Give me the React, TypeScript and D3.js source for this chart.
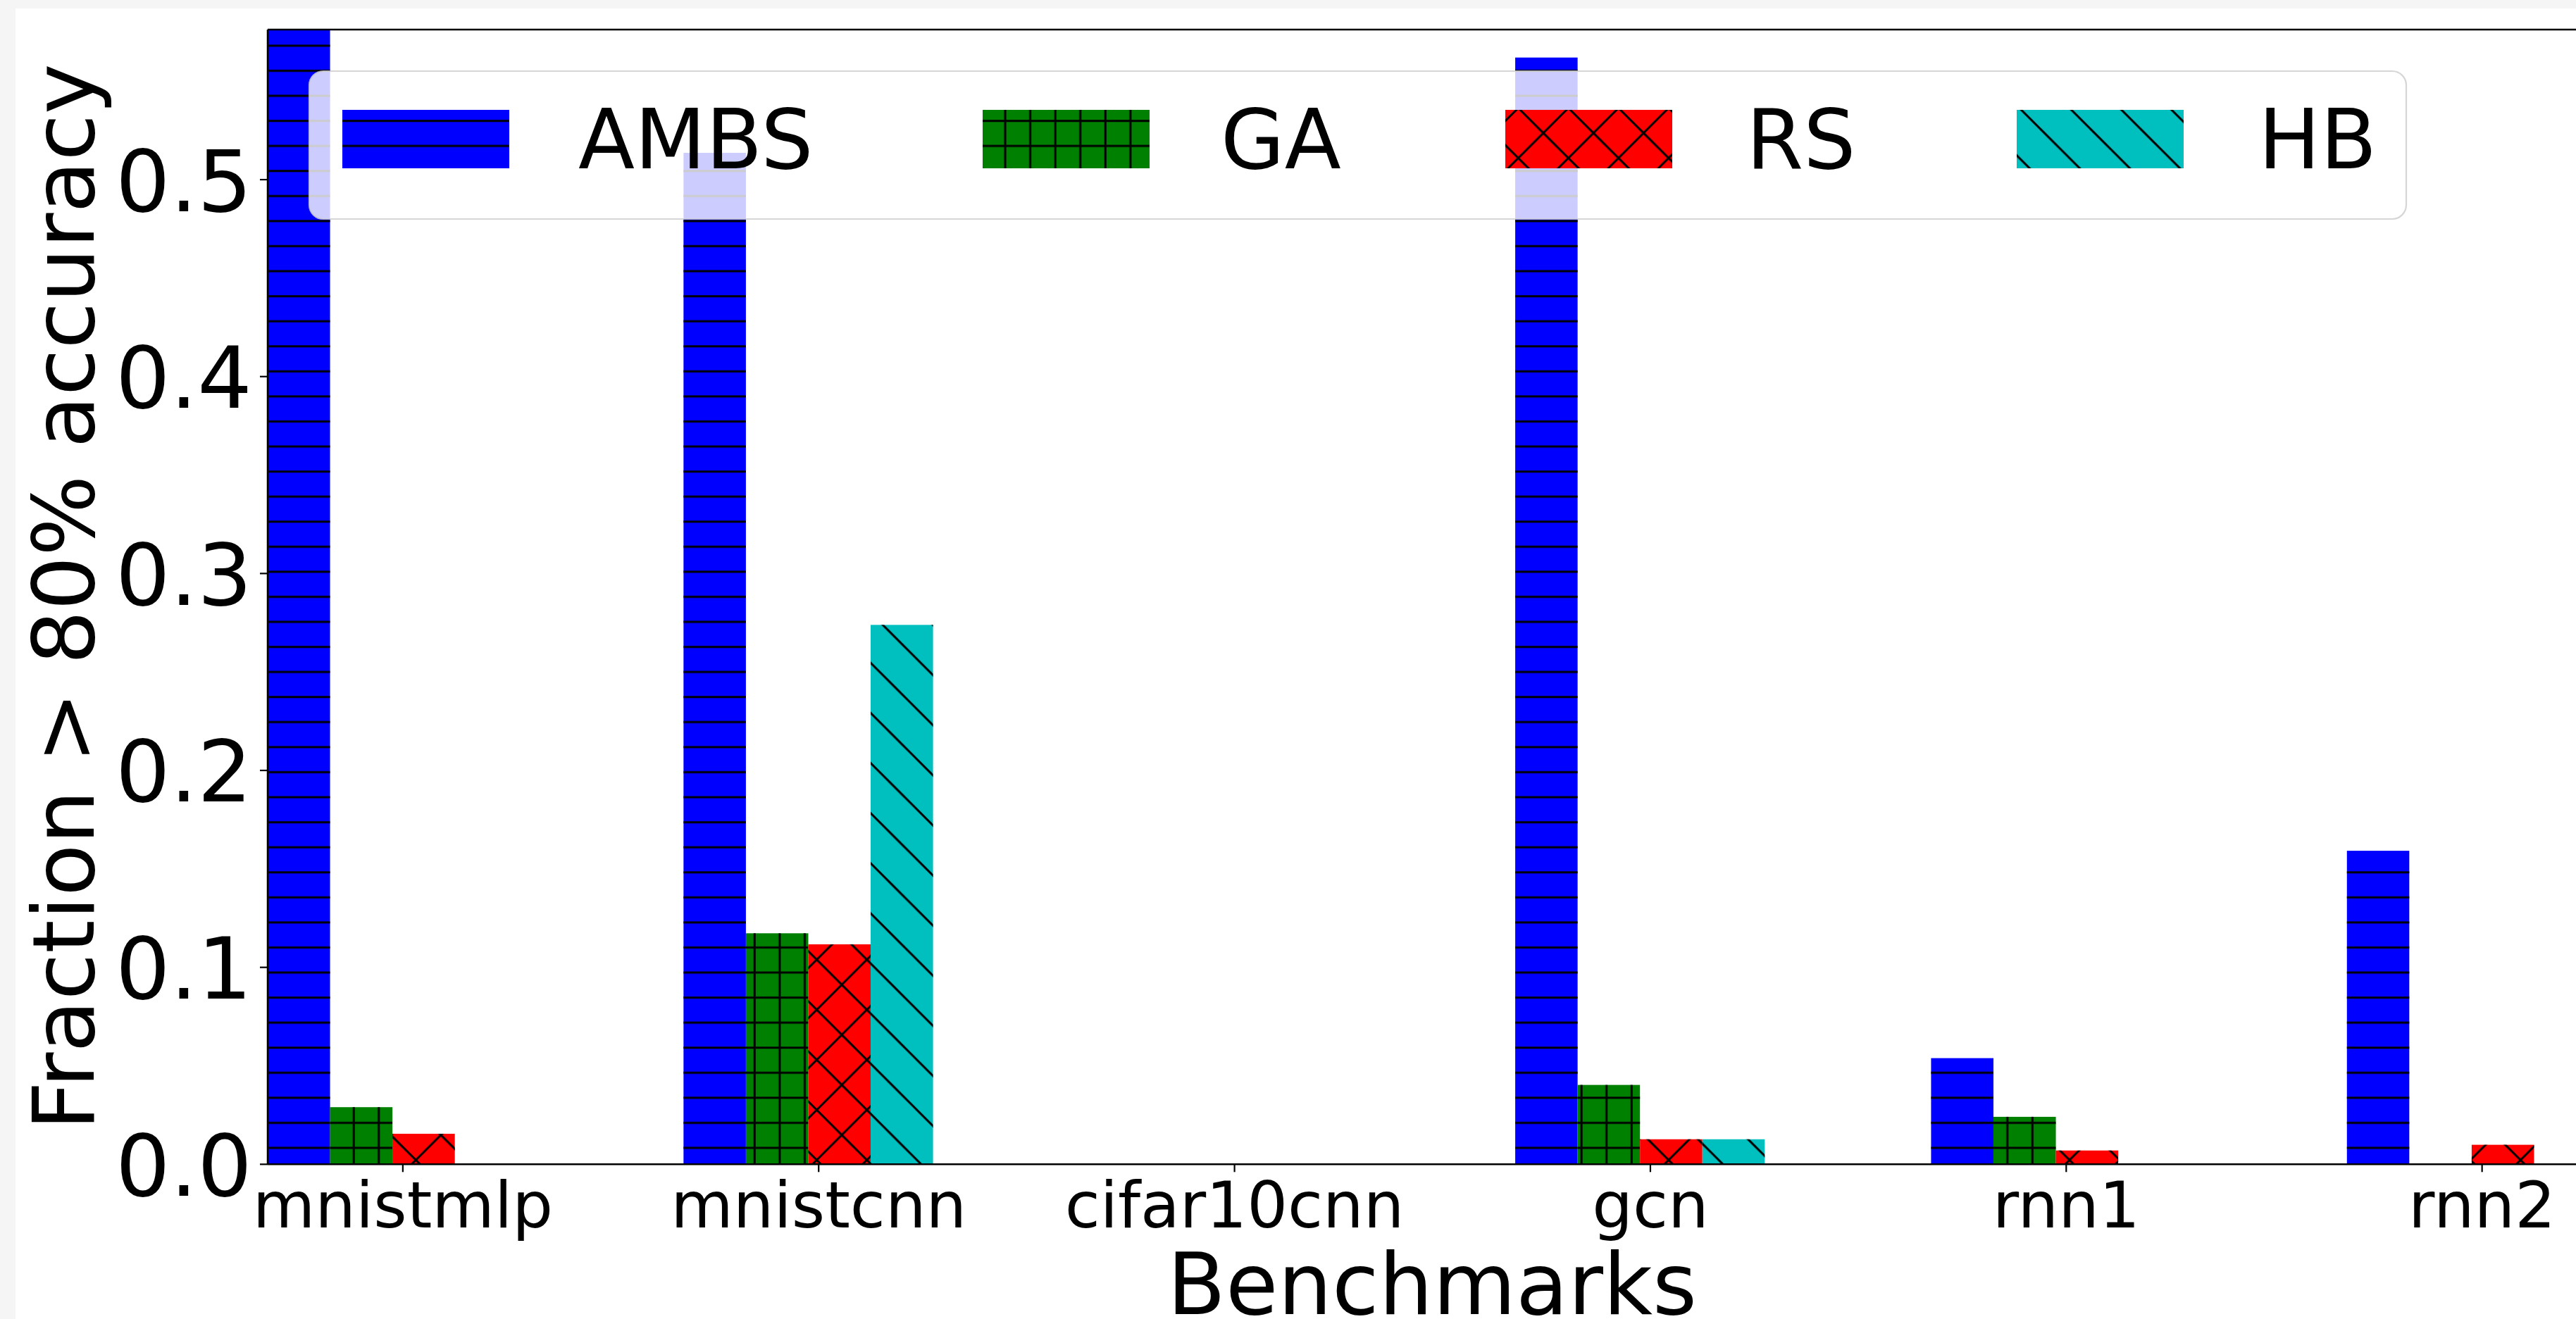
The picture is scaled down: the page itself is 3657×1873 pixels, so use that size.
import React from "react";
import * as d3 from "d3";

// ---- data ----
const benchmarks = ["mnistmlp", "mnistcnn", "cifar10cnn", "gcn", "rnn1", "rnn2"];
const seriesNames = ["AMBS", "GA", "RS", "HB"];
const ambsValues = [0.62, 0.5136, 0, 0.562, 0.0539, 0.1592];
const gaValues = [0.029, 0.1173, 0, 0.0403, 0.0241, 0];
const rsValues = [0.0155, 0.1117, 0, 0.0127, 0.007, 0.0099];
const hbValues = [0, 0.2739, 0, 0.0127, 0, 0];
const yTickValues = [0, 0.1, 0.2, 0.3, 0.4, 0.5];

// ---- layout / style ----
const W = 3657;
const H = 1873;
const AX_LEFT = 380;
const AX_RIGHT = 3686;
const AX_TOP = 42;
const AX_BOTTOM = 1653.3;
const FONT = "'DejaVu Sans', 'Liberation Sans', sans-serif";

const colors = ["#0000ff", "#008000", "#ff0000", "#00bfbf"];
const patternIds = ["hatchH", "hatchPlus", "hatchX", "hatchBack"];
const offsets = [-0.25, -0.1, 0.05, 0.2];
const BAR_W = 0.15;

const P = 35.57; // hatch spacing
const D = 2 * P; // diagonal period
const HPH = 29.4; // horizontal line phase
const VPH = 4.2; // vertical line phase
const NE_PH = 32.3; // x + y phase
const SE_PH = 61.0; // y - x phase
const HW = 3; // hatch line width

const legendPatchX = [486, 1395, 2137, 2863];
const legendTextX = [821, 1733, 2479, 3206];

function diagLines(kind: "ne" | "se") {
  const out: JSX.Element[] = [];
  for (let k = -2; k <= 2; k++) {
    if (kind === "ne") {
      const c = NE_PH + k * D;
      out.push(
        <line key={"ne" + k} x1={-D} y1={c + D} x2={2 * D} y2={c - 2 * D} stroke="#000" strokeWidth={HW} />
      );
    } else {
      const c = SE_PH + k * D;
      out.push(
        <line key={"se" + k} x1={-D} y1={c - D} x2={2 * D} y2={c + 2 * D} stroke="#000" strokeWidth={HW} />
      );
    }
  }
  return out;
}

export default function App() {
  const x = d3.scaleLinear().domain([-0.325, 5.275]).range([AX_LEFT, AX_RIGHT]);
  const y = d3.scaleLinear().domain([0, 0.5762]).range([AX_BOTTOM, AX_TOP]);
  const series = [ambsValues, gaValues, rsValues, hbValues];

  const bars: JSX.Element[] = [];
  series.forEach((vals, s) => {
    vals.forEach((v, i) => {
      if (v <= 0) return;
      const x0 = x(i + offsets[s] - BAR_W / 2);
      const x1 = x(i + offsets[s] + BAR_W / 2);
      const y0 = y(v);
      const h = y(0) - y0;
      bars.push(
        <g key={`b${s}-${i}`}>
          <rect x={x0} y={y0} width={x1 - x0} height={h} fill={colors[s]} />
          <rect x={x0} y={y0} width={x1 - x0} height={h} fill={`url(#${patternIds[s]})`} />
        </g>
      );
    });
  });

  const yTickFont = 122;
  const xTickFont = 91;
  const labelFont = 121;
  const legendFont = 117;

  return (
    <div style={{ margin: 0, padding: 0 }}>
      <style>{`body{margin:0;padding:0;overflow:hidden;}`}</style>
      <svg width={W} height={H} style={{ display: "block" }} xmlns="http://www.w3.org/2000/svg">
        <defs>
          <pattern id="hatchH" patternUnits="userSpaceOnUse" width={P} height={P}>
            <line x1={-2} x2={P + 2} y1={HPH} y2={HPH} stroke="#000" strokeWidth={HW} />
          </pattern>
          <pattern id="hatchPlus" patternUnits="userSpaceOnUse" width={P} height={P}>
            <line x1={-2} x2={P + 2} y1={HPH} y2={HPH} stroke="#000" strokeWidth={HW} />
            <line x1={VPH} x2={VPH} y1={-2} y2={P + 2} stroke="#000" strokeWidth={HW} />
          </pattern>
          <pattern id="hatchX" patternUnits="userSpaceOnUse" width={D} height={D}>
            {diagLines("ne")}
            {diagLines("se")}
          </pattern>
          <pattern id="hatchBack" patternUnits="userSpaceOnUse" width={D} height={D}>
            {diagLines("se")}
          </pattern>
          <clipPath id="axClip">
            <rect x={AX_LEFT} y={AX_TOP} width={AX_RIGHT - AX_LEFT} height={AX_BOTTOM - AX_TOP} />
          </clipPath>
        </defs>

        {/* background */}
        <rect x={0} y={0} width={W} height={H} fill="#f5f5f5" />
        <rect x={22} y={12} width={W - 22} height={H - 12} fill="#ffffff" />

        {/* bars */}
        <g clipPath="url(#axClip)">{bars}</g>

        {/* spines */}
        <g stroke="#000" strokeWidth={2.5} fill="none">
          <line x1={AX_LEFT} x2={AX_RIGHT} y1={AX_TOP} y2={AX_TOP} />
          <line x1={AX_LEFT} x2={AX_RIGHT} y1={AX_BOTTOM} y2={AX_BOTTOM} />
          <line x1={AX_LEFT} x2={AX_LEFT} y1={AX_TOP} y2={AX_BOTTOM} />
          <line x1={AX_RIGHT} x2={AX_RIGHT} y1={AX_TOP} y2={AX_BOTTOM} />
        </g>

        {/* y ticks */}
        {yTickValues.map((t) => (
          <g key={"yt" + t}>
            <line x1={AX_LEFT - 11} x2={AX_LEFT} y1={y(t)} y2={y(t)} stroke="#000" strokeWidth={2.2} />
            <text
              x={AX_LEFT - 22}
              y={y(t) + 0.3645 * yTickFont}
              textAnchor="end"
              fontFamily={FONT}
              fontSize={yTickFont}
              fill="#000"
            >
              {t.toFixed(1)}
            </text>
          </g>
        ))}

        {/* x ticks */}
        {benchmarks.map((b, i) => (
          <g key={"xt" + b}>
            <line x1={x(i)} x2={x(i)} y1={AX_BOTTOM} y2={AX_BOTTOM + 11} stroke="#000" strokeWidth={2.2} />
            <text x={x(i)} y={1743} textAnchor="middle" fontFamily={FONT} fontSize={xTickFont} fill="#000">
              {b}
            </text>
          </g>
        ))}

        {/* axis labels */}
        <text
          x={(AX_LEFT + AX_RIGHT) / 2}
          y={1866}
          textAnchor="middle"
          fontFamily={FONT}
          fontSize={labelFont}
          fill="#000"
        >
          Benchmarks
        </text>
        <text
          transform={`translate(133, ${(AX_TOP + AX_BOTTOM) / 2}) rotate(-90)`}
          textAnchor="middle"
          fontFamily={FONT}
          fontSize={labelFont}
          fill="#000"
        >
          {"Fraction > 80% accuracy"}
        </text>

        {/* legend */}
        <g>
          <rect
            x={439}
            y={101}
            width={3416 - 439}
            height={311 - 101}
            rx={20}
            ry={20}
            fill="#ffffff"
            fillOpacity={0.8}
            stroke="#cccccc"
            strokeOpacity={0.8}
            strokeWidth={2.2}
          />
          {seriesNames.map((name, s) => (
            <g key={"lg" + name}>
              <rect x={legendPatchX[s]} y={156} width={237} height={83} fill={colors[s]} />
              <rect x={legendPatchX[s]} y={156} width={237} height={83} fill={`url(#${patternIds[s]})`} />
              <text x={legendTextX[s]} y={238.7} fontFamily={FONT} fontSize={legendFont} fill="#000">
                {name}
              </text>
            </g>
          ))}
        </g>
      </svg>
    </div>
  );
}
